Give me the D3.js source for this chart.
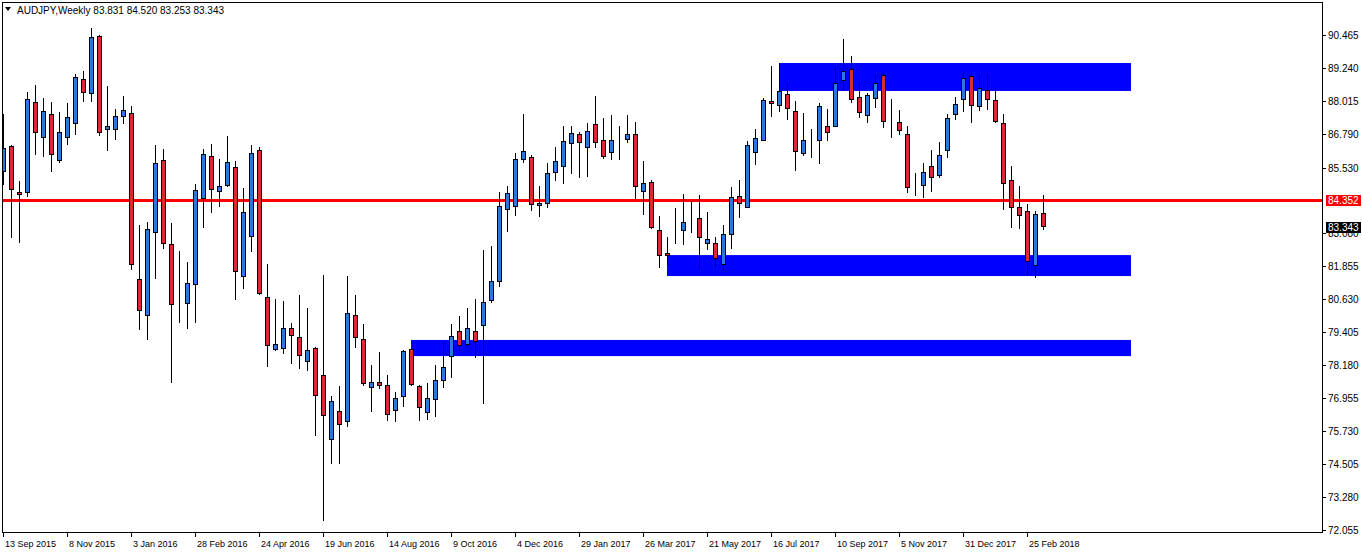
<!DOCTYPE html>
<html><head><meta charset="utf-8">
<script src="https://cdn.jsdelivr.net/npm/d3@7"></script>
<style>
html,body{margin:0;padding:0;background:#fff;}
svg{display:block;font-family:Tahoma,"Liberation Sans",Arial,sans-serif;}
</style></head><body>
<svg id="c" width="1362" height="554"></svg>
<script>
const symbolTitle = "AUDJPY,Weekly";
const lastQuote = ["83.831", "84.520", "83.253", "83.343"];
const timeLabels = ["13 Sep 2015","8 Nov 2015","3 Jan 2016","28 Feb 2016","24 Apr 2016","19 Jun 2016","14 Aug 2016","9 Oct 2016","4 Dec 2016","29 Jan 2017","26 Mar 2017","21 May 2017","16 Jul 2017","10 Sep 2017","5 Nov 2017","31 Dec 2017","25 Feb 2018"];
const weeksPerLabel = 8;
const opens = [85.40,86.34,84.63,84.63,87.98,86.67,87.53,85.82,86.67,87.20,88.83,88.31,90.43,86.97,86.97,87.46,87.57,81.39,80.05,83.14,85.82,82.69,80.52,80.49,81.20,84.40,85.97,84.66,84.89,85.56,81.50,82.99,86.19,80.72,78.78,78.82,79.56,79.23,78.33,78.82,77.81,75.43,76.47,76.10,80.05,79.15,77.37,77.55,77.44,76.51,77.03,78.78,77.40,76.44,76.92,77.63,78.52,79.45,78.97,79.45,79.68,80.61,81.31,83.99,84.11,85.86,85.93,84.14,84.22,85.37,85.59,86.45,86.79,86.30,87.16,86.56,86.12,86.53,86.60,86.79,84.66,85.00,83.21,82.36,83.52,83.21,83.72,83.66,82.73,82.73,81.95,83.06,84.48,84.07,86.12,86.56,88.01,87.87,88.28,87.64,86.08,86.70,86.56,87.08,87.08,88.80,89.21,88.16,87.49,88.13,88.98,87.23,87.23,86.79,84.85,84.89,85.59,85.26,86.19,87.53,88.09,88.95,87.83,88.42,88.05,87.20,85.07,84.07,83.92,81.91,83.831];
const highs = [87.53,86.38,85.04,88.36,88.62,88.13,87.98,87.60,87.94,89.02,89.14,90.74,90.48,88.59,87.72,88.20,87.83,83.41,83.52,86.38,86.23,83.48,82.44,82.03,84.92,86.23,86.43,85.86,86.72,85.78,84.78,86.38,86.30,81.95,80.64,80.57,79.75,80.79,80.31,78.86,81.54,77.03,77.40,81.50,80.80,79.71,78.19,78.67,77.81,77.18,78.74,78.78,77.44,77.52,78.19,79.00,79.71,80.01,80.31,80.64,82.47,82.62,84.63,84.85,86.08,87.54,86.00,84.85,85.71,86.30,87.08,87.08,86.86,87.20,88.20,87.38,87.49,87.08,87.49,87.23,85.78,85.07,83.73,82.95,84.04,84.55,84.32,84.52,83.88,82.95,83.40,84.81,85.07,86.53,86.97,88.13,89.33,89.44,88.72,88.01,87.57,86.97,87.94,87.72,89.28,90.32,89.69,88.72,88.31,88.98,89.09,88.09,87.68,87.08,85.33,85.71,86.19,86.49,87.53,88.16,89.09,89.09,89.02,89.06,88.50,87.53,85.59,84.85,84.18,83.92,84.520];
const lows = [84.92,82.98,82.79,84.50,86.05,85.98,85.43,85.77,86.44,86.81,88.04,88.04,86.77,86.22,86.62,87.22,81.78,79.55,79.18,81.45,82.55,77.58,79.81,79.59,79.81,83.35,83.91,84.13,84.85,80.67,81.08,82.45,80.83,78.17,78.74,78.63,78.28,78.10,78.02,75.58,72.42,74.54,74.54,75.91,78.88,77.47,76.50,77.33,76.15,76.10,76.68,77.44,76.15,76.20,76.30,77.37,77.74,78.71,78.89,78.48,76.77,80.53,81.13,83.17,83.77,85.74,83.96,83.73,84.07,85.07,84.99,85.33,85.19,85.22,86.30,85.89,85.86,85.86,86.49,84.40,83.81,83.29,81.83,81.95,82.73,82.69,83.16,81.76,82.50,81.90,81.78,82.57,83.72,84.07,85.67,86.56,87.48,87.64,87.34,85.45,86.00,85.93,85.71,86.56,87.08,88.46,87.98,87.42,87.23,87.79,87.05,86.67,86.79,84.63,84.52,84.44,84.66,85.19,85.93,87.34,87.64,87.23,87.68,87.72,87.23,83.99,83.32,83.29,81.57,81.49,83.253];
const closes = [86.26,84.74,84.55,88.09,86.86,87.64,86.04,86.86,87.42,88.91,88.35,90.40,86.86,87.08,87.46,87.68,81.95,80.23,83.25,85.71,82.73,80.46,80.52,81.24,84.70,86.04,84.74,84.85,85.74,81.69,83.88,86.08,80.87,78.93,78.97,79.56,79.30,78.56,78.74,77.07,76.32,76.85,75.99,80.12,79.23,77.50,77.55,77.44,76.36,76.96,78.71,77.48,76.62,76.96,77.63,78.11,79.27,78.93,79.56,79.08,80.53,81.31,84.11,84.59,85.86,86.15,84.18,84.22,85.33,85.78,86.53,86.82,86.49,86.90,86.49,85.97,86.56,86.53,86.79,84.85,84.96,83.32,82.28,82.28,83.52,83.51,83.72,82.95,82.88,82.17,83.06,84.44,84.22,86.38,86.64,88.05,87.94,88.39,87.75,86.15,86.56,86.70,87.83,86.86,88.68,89.13,88.09,87.61,88.24,88.68,87.27,87.23,86.93,84.81,84.85,85.37,85.19,86.00,87.38,87.90,88.87,87.87,88.50,88.09,87.27,84.96,84.07,83.77,82.06,83.81,83.343];
const priceTicks = [90.465,89.240,88.015,86.790,85.530,83.080,81.855,80.630,79.405,78.180,76.955,75.730,74.505,73.280,72.055];
const levelPrice = 84.352;
const zoneTops = [89.44, 82.29, 79.13];
const zoneBottoms = [88.40, 81.51, 78.53];
const zoneStartBars = [97, 83, 51];
const zoneEndBar = 141;

const svg = d3.select("#c");
const L = 2, T = 2, R = 1322, B = 532;
const nBars = opens.length;
const x = d3.scaleLinear().domain([0, zoneEndBar]).range([3.5, 3.5 + 8 * zoneEndBar]);
const y = d3.scaleLinear().domain([72.055, 90.465]).range([530, 35.5]);
const fmt = d3.format(".3f");
const bull = "#2a78dc", bear = "#dc2a34";
const snap = v => Math.round(v - 0.5) + 0.5;

const plot = svg.append("g");
plot.append("defs").append("clipPath").attr("id","clip").append("rect")
  .attr("x", L).attr("y", T).attr("width", R - L).attr("height", B - T);
const inner = plot.append("g").attr("clip-path","url(#clip)");

// zones
inner.selectAll("rect.zone").data(zoneTops).join("rect").attr("class","zone")
  .attr("x", (d,i) => x(zoneStartBars[i]) - 0.5)
  .attr("y", d => y(d))
  .attr("width", (d,i) => x(zoneEndBar) - x(zoneStartBars[i]))
  .attr("height", (d,i) => y(zoneBottoms[i]) - y(d))
  .attr("fill", "#0000ff");

// level line
inner.append("line").attr("x1", L).attr("x2", R)
  .attr("y1", Math.round(y(levelPrice)) + 0.5).attr("y2", Math.round(y(levelPrice)) + 0.5)
  .attr("stroke", "#ff0000").attr("stroke-width", 3);

// candles
const bars = d3.range(nBars);
const cg = inner.append("g");
cg.selectAll("line.wick").data(bars).join("line").attr("class","wick")
  .attr("x1", i => x(i)).attr("x2", i => x(i))
  .attr("y1", i => Math.round(y(highs[i]))).attr("y2", i => Math.round(y(lows[i])) + 1)
  .attr("stroke", "#000").attr("stroke-width", 1);
cg.selectAll("rect.body").data(bars).join("rect").attr("class","body")
  .attr("x", i => x(i) - 2)
  .attr("y", i => snap(y(Math.max(opens[i], closes[i]))))
  .attr("width", 4)
  .attr("height", i => snap(y(Math.min(opens[i], closes[i]))) - snap(y(Math.max(opens[i], closes[i]))))
  .attr("fill", i => closes[i] > opens[i] ? bull : (closes[i] < opens[i] ? bear : "#000"))
  .attr("stroke", "#000").attr("stroke-width", 1);

// frame
svg.append("rect").attr("x", L + 0.5).attr("y", T + 0.5).attr("width", R - L).attr("height", B - T)
  .attr("fill", "none").attr("stroke", "#000").attr("stroke-width", 1);

// price axis
const pa = svg.append("g");
priceTicks.forEach(p => {
  const yy = snap(y(p));
  pa.append("line").attr("x1", R + 0.5).attr("x2", R + 4).attr("y1", yy).attr("y2", yy).attr("stroke", "#000");
  pa.append("text").attr("x", R + 6).attr("y", yy).attr("dy", "0.35em")
    .attr("font-size", "10px").attr("fill", "#000").text(fmt(p));
});
function priceTag(p, fill, label) {
  const yy = y(p);
  pa.append("rect").attr("x", R + 4).attr("y", Math.round(yy) - 5).attr("width", 35).attr("height", 11).attr("fill", fill);
  pa.append("text").attr("x", R + 6).attr("y", Math.round(yy)).attr("dy", "0.35em")
    .attr("font-size", "10px").attr("fill", "#fff").text(label);
}
priceTag(levelPrice, "#ff0000", fmt(levelPrice));
priceTag(+lastQuote[3], "#000", lastQuote[3]);

// time axis
const ta = svg.append("g");
timeLabels.forEach((lab, k) => {
  const xx = x(k * weeksPerLabel);
  ta.append("line").attr("x1", xx).attr("x2", xx).attr("y1", B + 0.5).attr("y2", B + 5).attr("stroke", "#000");
  ta.append("text").attr("x", xx + 1.5).attr("y", 547).attr("font-size", "9px").attr("fill", "#000").text(lab);
});

// header
svg.append("path").attr("d", "M5,7 L11,7 L8,11 Z").attr("fill", "#000");
svg.append("text").attr("x", 17).attr("y", 14).attr("font-size", "10px").attr("fill", "#000")
  .text(symbolTitle + "  " + lastQuote.join(" "));
</script>
</body></html>
